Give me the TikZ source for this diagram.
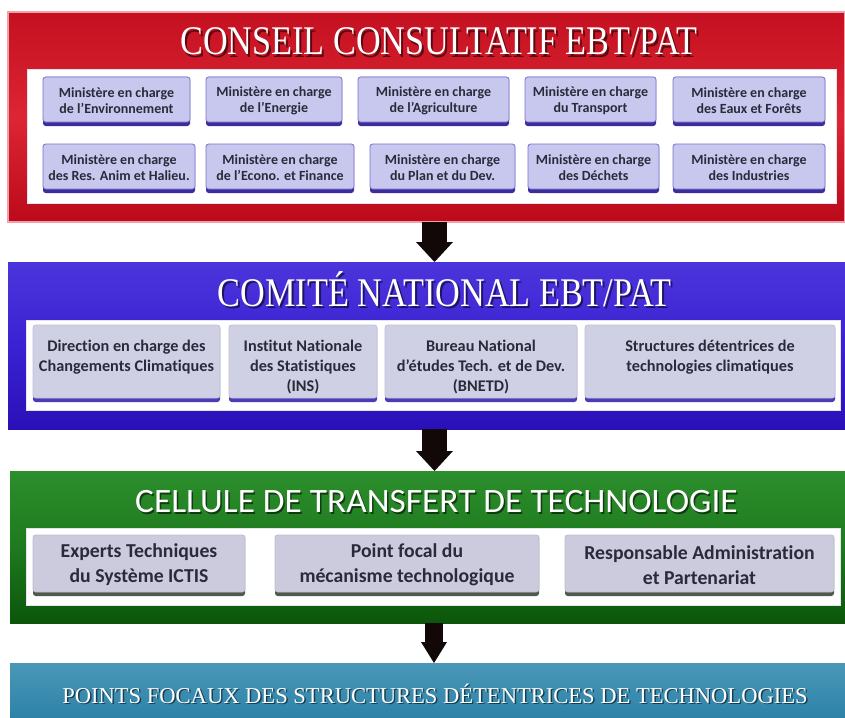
\documentclass[tikz,border=0pt]{standalone}
\usepackage{fontspec}
\setmainfont{Liberation Serif}
\newfontfamily\carfont[Ligatures=NoCommon]{Carlito}
\usetikzlibrary{fit,arrows.meta,calc}
\definecolor{redtop}{HTML}{C41020}
\definecolor{redmid}{HTML}{DC2535}
\definecolor{redbot}{HTML}{BC0A1A}
\definecolor{rededge}{HTML}{F0A0A8}
\definecolor{bluetop}{HTML}{4C34DC}
\definecolor{bluemid}{HTML}{3A22D2}
\definecolor{bluebot}{HTML}{2A10B8}
\definecolor{greentop}{HTML}{2C8E2C}
\definecolor{greenmid}{HTML}{1E7A1E}
\definecolor{greenbot}{HTML}{0B560B}
\definecolor{tealtop}{HTML}{4A98B8}
\definecolor{tealbot}{HTML}{2E82A8}
\definecolor{panelborder}{HTML}{E4E4EE}
\definecolor{rfill}{HTML}{C8C8EE}
\definecolor{rborder}{HTML}{7A70D0}
\definecolor{rshadow}{HTML}{3C2C9C}
\definecolor{bfill}{HTML}{D0D0E4}
\definecolor{bborder}{HTML}{C0C0D8}
\definecolor{bshadow}{HTML}{4B3BB8}
\definecolor{gfill}{HTML}{CBCBDD}
\definecolor{gborder}{HTML}{BCBCD0}
\definecolor{gshadow}{HTML}{4D5A4D}
\definecolor{txtcol}{HTML}{2A2A3A}
\definecolor{arrowblack}{HTML}{120808}
\newcommand\fitw[2]{\resizebox{#1}{\height}{#2}}
\newcommand\ttlfont{\fontsize{30.5}{32}\selectfont}
\newcommand\mbx[7]{%
  \fill[#6sh, rounded corners=2pt] (#2,#3) rectangle (#4,#5);
  \node[#6box, fit={(#2,#3) (#4,#5-4)}] (#1) {};
  \node[#6txt] (#1-t) at (#1.center) {#7};}
\tikzset{
  band/.style={inner sep=0pt, outer sep=0pt},
  panel/.style={fill=white, draw=panelborder, line width=0.6pt, inner sep=0pt},
  ttext/.style={text=white, inner sep=0pt, anchor=base},
  tshadow/.style={text=black, text opacity=0.55, inner sep=0pt, anchor=base},
  crsh/.style={fill=rshadow},
  crbox/.style={fill=rfill, draw=rborder, line width=0.6pt, rounded corners=2pt, inner sep=0pt},
  crtxt/.style={font=\carfont\bfseries\fontsize{10.5}{12}\selectfont, text=txtcol, align=center, inner sep=0pt, yshift=-1pt},
  cbsh/.style={fill=bshadow},
  cbbox/.style={fill=bfill, draw=bborder, line width=0.5pt, rounded corners=2pt, inner sep=0pt},
  cbtxt/.style={font=\carfont\bfseries\fontsize{12.2}{15}\selectfont, text=txtcol, align=center, inner sep=0pt, anchor=north, yshift=16pt},
  cgsh/.style={fill=gshadow},
  cgbox/.style={fill=gfill, draw=gborder, line width=0.5pt, rounded corners=2pt, inner sep=0pt},
  cgtxt/.style={font=\carfont\bfseries\fontsize{14.8}{18.75}\selectfont, text=txtcol, align=center, inner sep=0pt, yshift=-1pt},
  arrowA/.style={draw=arrowblack, line width=18.75pt, -{Triangle[width=27.75pt,length=15pt,line width=0pt]}},
  arrowB/.style={draw=arrowblack, line width=13.5pt, -{Triangle[width=19.5pt,length=15.75pt,line width=0pt]}}
}
\begin{document}
\begin{tikzpicture}[x=0.75pt,y=-0.75pt]
\useasboundingbox (0,0) rectangle (845,717);
\fill[white] (0,0) rectangle (845,717);
\coordinate (ax) at (434.5,0);
\coordinate (axb) at (434,0);

% ---------- bands ----------
\node[band, fit={(8,12) (845,222)}, top color=redtop, bottom color=redbot, middle color=redmid, draw=rededge, line width=0.8pt] (red) {};
\node[band, fit={(8,262) (845,429)}, top color=bluetop, bottom color=bluebot, middle color=bluemid] (blue) {};
\node[band, fit={(10,471) (845,623)}, top color=greentop, bottom color=greenbot, middle color=greenmid] (green) {};
\node[band, fit={(10,663) (845,717)}, top color=tealtop, bottom color=tealbot] (teal) {};

% ---------- titles ----------
\node[tshadow] (redtitle-s) at (441,57) {\fitw{388pt}{\ttlfont CONSEIL CONSULTATIF EBT/PAT}};
\node[ttext] (redtitle) at (439,55) {\fitw{388pt}{\ttlfont CONSEIL CONSULTATIF EBT/PAT}};
\node[tshadow] (bluetitle-s) at (446.5,308) {\fitw{340pt}{\ttlfont COMITÉ NATIONAL EBT/PAT}};
\node[ttext] (bluetitle) at (444.5,306) {\fitw{340pt}{\ttlfont COMITÉ NATIONAL EBT/PAT}};
\node[tshadow] (greentitle-s) at (438,514) {\fitw{452pt}{\carfont\fontsize{25.6}{28}\selectfont CELLULE DE TRANSFERT DE TECHNOLOGIE}};
\node[ttext] (greentitle) at (436.5,512) {\fitw{452pt}{\carfont\fontsize{25.6}{28}\selectfont CELLULE DE TRANSFERT DE TECHNOLOGIE}};
\node[tshadow] (tealtitle-s) at (436.5,704.5) {\fitw{559pt}{\fontsize{17}{19}\selectfont POINTS FOCAUX DES STRUCTURES DÉTENTRICES DE TECHNOLOGIES}};
\node[ttext] (tealtitle) at (435,703) {\fitw{559pt}{\fontsize{17}{19}\selectfont POINTS FOCAUX DES STRUCTURES DÉTENTRICES DE TECHNOLOGIES}};

% ---------- panels ----------
\node[panel, fit={(27,69) (836,203)}] (redpanel) {};
\node[panel, fit={(26,320) (840,410)}] (bluepanel) {};
\node[panel, fit={(26,528) (840,605)}] (greenpanel) {};

% ---------- red boxes ----------
\mbx{m1}{43}{77}{190}{126}{cr}{Ministère en charge\\de l’Environnement}
\mbx{m2}{206}{77}{342}{126}{cr}{Ministère en charge\\de l’Energie}
\mbx{m3}{358}{77}{509}{126}{cr}{Ministère en charge\\de l’Agriculture}
\mbx{m4}{525}{77}{656}{126}{cr}{Ministère en charge\\du Transport}
\mbx{m5}{673}{77}{825}{126}{cr}{Ministère en charge\\des Eaux et Forêts}
\mbx{m6}{43}{144}{195}{193}{cr}{Ministère en charge\\des Res. Anim et Halieu.}
\mbx{m7}{206}{144}{354}{193}{cr}{Ministère en charge\\de l’Econo. et Finance}
\mbx{m8}{370}{144}{515}{193}{cr}{Ministère en charge\\du Plan et du Dev.}
\mbx{m9}{528}{144}{659}{193}{cr}{Ministère en charge\\des Déchets}
\mbx{m10}{673}{144}{825}{193}{cr}{Ministère en charge\\des Industries}

% ---------- blue boxes ----------
\mbx{c1}{33}{325}{220}{402}{cb}{Direction en charge des\\Changements Climatiques}
\mbx{c2}{229}{325}{377}{402}{cb}{Institut Nationale\\des Statistiques\\(INS)}
\mbx{c3}{385}{325}{577}{402}{cb}{Bureau National\\d’études Tech. et de Dev.\\(BNETD)}
\mbx{c4}{585}{325}{835}{402}{cb}{Structures détentrices de\\technologies climatiques}

% ---------- green boxes ----------
\mbx{t1}{33}{535}{245}{596}{cg}{Experts Techniques\\du Système ICTIS}
\mbx{t2}{275}{535}{539}{596}{cg}{Point focal du\\mécanisme technologique}
\mbx{t3}{565}{535}{834}{596}{cg}{Responsable Administration\\et Partenariat}

% ---------- arrows ----------
\draw[arrowA] (red.south -| ax) -- (blue.north -| ax);
\draw[arrowA] (blue.south -| ax) -- (green.north -| ax);
\draw[arrowB] (green.south -| axb) -- (teal.north -| axb);
\end{tikzpicture}
\end{document}
